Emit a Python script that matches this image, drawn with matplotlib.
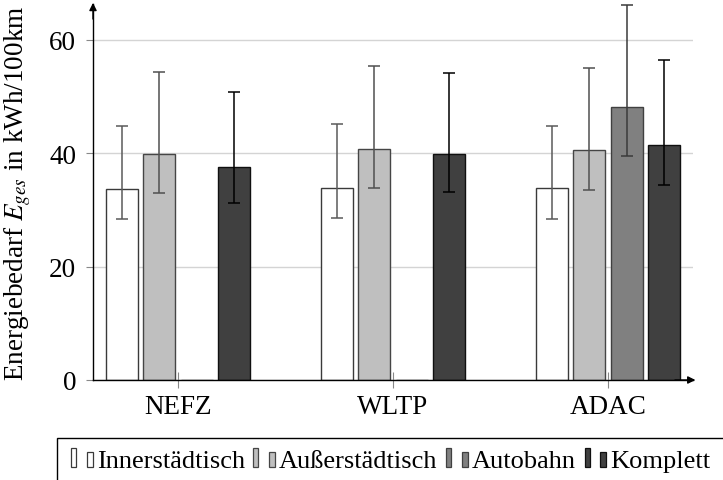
import matplotlib
matplotlib.use("Agg")
import matplotlib.pyplot as plt
import numpy as np
from matplotlib.patches import Rectangle
from matplotlib.legend_handler import HandlerBase

plt.rcParams['font.family'] = ['Liberation Serif', 'DejaVu Serif']
plt.rcParams['mathtext.fontset'] = 'stix'

categories = ["NEFZ", "WLTP", "ADAC"]
series_names = ["Innerstädtisch", "Außerstädtisch", "Autobahn", "Komplett"]

inner_vals = [33.7, 33.9, 33.8]
inner_low = [28.4, 28.5, 28.4]
inner_high = [44.8, 45.2, 44.9]

ausser_vals = [39.9, 40.8, 40.5]
ausser_low = [33.0, 33.9, 33.6]
ausser_high = [54.3, 55.4, 55.1]

autobahn_vals = [0.0, 0.0, 48.2]
autobahn_low = [0.0, 0.0, 39.6]
autobahn_high = [0.0, 0.0, 66.2]

komplett_vals = [37.6, 39.8, 41.4]
komplett_low = [31.3, 33.2, 34.4]
komplett_high = [50.9, 54.1, 56.4]

yticks = [0, 20, 40, 60]

series = [
    (inner_vals, inner_low, inner_high),
    (ausser_vals, ausser_low, ausser_high),
    (autobahn_vals, autobahn_low, autobahn_high),
    (komplett_vals, komplett_low, komplett_high),
]
fills = ['#ffffff', '#bfbfbf', '#808080', '#404040']
edges = ['#3a3a3a', '#454545', '#404040', '#101010']
errcols = ['#5a5a5a', '#505050', '#3a3a3a', '#000000']

FS = 19.5
LFS = 19
fig = plt.figure(figsize=(7.23, 4.81), dpi=100)
ax = fig.add_axes([93/723, 1-381/481, 600/723, 376/481])

x = np.arange(len(categories))
bw = 0.149
step = 0.173
for i, (vals, lo, hi) in enumerate(series):
    pos = x + (i - 1.5) * step
    vals = np.array(vals); lo = np.array(lo); hi = np.array(hi)
    ax.bar(pos, vals, width=bw, color=fills[i], edgecolor=edges[i], linewidth=1.0, zorder=3)
    m = hi > 0
    ax.errorbar(pos[m], vals[m], yerr=[vals[m]-lo[m], hi[m]-vals[m]], fmt='none',
                ecolor=errcols[i], elinewidth=1.1, capsize=4, capthick=1.1, zorder=4)

ax.set_xlim(-0.395, 2.395)
ax.set_ylim(0, 66.35)
ax.set_yticks(yticks)
ax.set_xticks(x)
ax.set_xticklabels(categories, fontsize=FS)
ax.tick_params(axis='y', labelsize=FS, direction='out', length=5, width=0.8, color='#888888', pad=7)
ax.tick_params(axis='x', labelsize=FS, direction='inout', length=12, width=0.8, color='#888888', pad=4)
ax.grid(axis='y', color='#d4d4d4', linewidth=1.0, zorder=0)
ax.set_axisbelow(True)
for s in ['top', 'right']:
    ax.spines[s].set_visible(False)
for s in ['left', 'bottom']:
    ax.spines[s].set_linewidth(1.0)
    ax.spines[s].set_zorder(5)

ax.annotate('', xy=(1.004, 0), xytext=(0.97, 0), xycoords='axes fraction',
            arrowprops=dict(arrowstyle='-|>', mutation_scale=11, lw=1.0, color='black',
                            shrinkA=0, shrinkB=0), annotation_clip=False)
ax.annotate('', xy=(0, 1.003), xytext=(0, 0.96), xycoords='axes fraction',
            arrowprops=dict(arrowstyle='-|>', mutation_scale=11, lw=1.0, color='black',
                            shrinkA=0, shrinkB=0), annotation_clip=False)

ax.set_ylabel('Energiebedarf $E_{ges}$ in kWh/100km', fontsize=FS)
ax.yaxis.set_label_coords(-0.100, 0.5)


class TwoBarHandler(HandlerBase):
    def __init__(self, fc, ec):
        super().__init__()
        self.fc = fc
        self.ec = ec

    def create_artists(self, legend, orig_handle, xdescent, ydescent, width, height, fontsize, trans):
        x0 = -xdescent
        y0 = -ydescent
        r1 = Rectangle((x0, y0), 0.23*width, height, facecolor=self.fc,
                       edgecolor=self.ec, linewidth=0.9, transform=trans)
        r2 = Rectangle((x0 + 0.72*width, y0), 0.28*width, 0.79*height, facecolor=self.fc,
                       edgecolor=self.ec, linewidth=0.9, transform=trans)
        return [r1, r2]


handles = [Rectangle((0, 0), 1, 1) for _ in series_names]
hmap = {h: TwoBarHandler(fills[i], edges[i]) for i, h in enumerate(handles)}
leg = fig.legend(handles, series_names, handler_map=hmap, ncol=4, loc='upper left',
                 bbox_to_anchor=(71/723, 1-449/481), fontsize=LFS, frameon=False,
                 handlelength=0.82, handleheight=0.72,
                 handletextpad=0.15, columnspacing=0.33, borderpad=0, borderaxespad=0)

frame = Rectangle((57/723, -0.2), 1.2, 0.2 + (1 - 439/481), transform=fig.transFigure,
                  facecolor='none', edgecolor='black', linewidth=1.0)
fig.patches.append(frame)

fig.savefig('out.png', dpi=100)
